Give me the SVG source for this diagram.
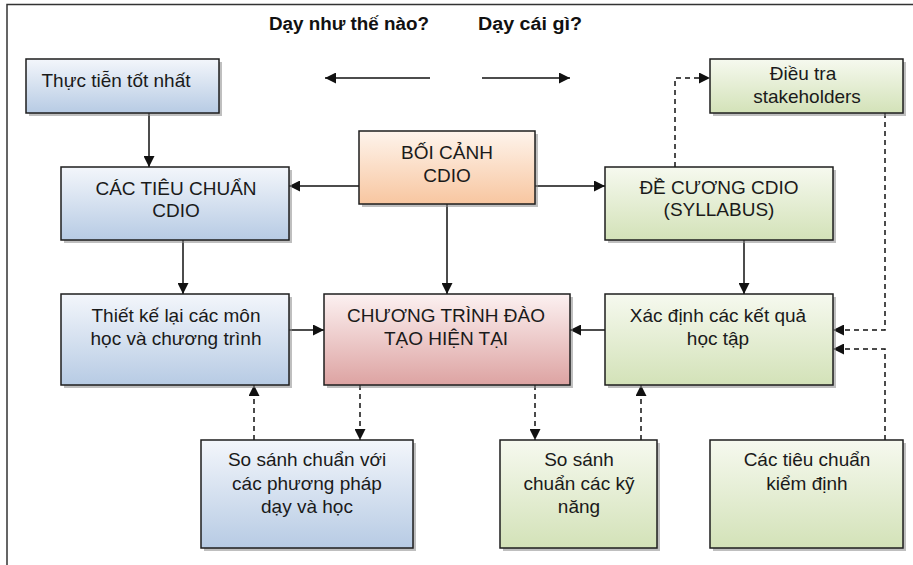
<svg xmlns="http://www.w3.org/2000/svg" width="913" height="565" viewBox="0 0 913 565">
<defs>
<linearGradient id="gBlue" x1="0" y1="0" x2="0" y2="1"><stop offset="0" stop-color="#f3f6fb"/><stop offset="1" stop-color="#b7cbe4"/></linearGradient>
<linearGradient id="gGreen" x1="0" y1="0" x2="0" y2="1"><stop offset="0" stop-color="#f6f9ef"/><stop offset="1" stop-color="#d3e2b8"/></linearGradient>
<linearGradient id="gOrange" x1="0" y1="0" x2="0" y2="1"><stop offset="0" stop-color="#fef4ec"/><stop offset="1" stop-color="#f8c6a0"/></linearGradient>
<linearGradient id="gRed" x1="0" y1="0" x2="0" y2="1"><stop offset="0" stop-color="#fcf1f1"/><stop offset="1" stop-color="#dda3a2"/></linearGradient>
<marker id="arr" viewBox="0 0 10 10" refX="10" refY="5" markerWidth="11" markerHeight="11" markerUnits="userSpaceOnUse" orient="auto"><path d="M0,0 L10,5 L0,10 z" fill="#111"/></marker>
</defs>
<style>
.box{stroke:#1e1e1e;stroke-width:1.5}
.sh{fill:#8a8a8a;opacity:.55}
.t{font-family:"Liberation Sans",Arial,sans-serif;font-size:19px;fill:#1a1a1a;text-anchor:middle}
.h{font-family:"Liberation Sans",Arial,sans-serif;font-size:18px;font-weight:bold;fill:#111}
.c{fill:none;stroke:#111;stroke-width:1.5}
.d{fill:none;stroke:#111;stroke-width:1.5;stroke-dasharray:5 4}
</style>
<rect width="913" height="565" fill="#fff"/>
<path d="M7,565 V4.5 H913" fill="none" stroke="#333" stroke-width="1.5"/>
<g id="headers">
<text class="h" x="269" y="30" textLength="160" lengthAdjust="spacingAndGlyphs">Dạy như thế nào?</text>
<text class="h" x="478" y="30" textLength="104" lengthAdjust="spacingAndGlyphs">Dạy cái gì?</text>
</g>
<g id="connectors">
<path class="c" d="M430,78 H325" marker-end="url(#arr)"/>
<path class="c" d="M482,78 H570" marker-end="url(#arr)"/>
<path class="c" d="M149,113 V167" marker-end="url(#arr)"/>
<path class="c" d="M359,186 H289" marker-end="url(#arr)"/>
<path class="c" d="M535,186 H605" marker-end="url(#arr)"/>
<path class="c" d="M447,204 V294" marker-end="url(#arr)"/>
<path class="c" d="M183,240 V294" marker-end="url(#arr)"/>
<path class="c" d="M289,330 H324" marker-end="url(#arr)"/>
<path class="c" d="M744,240 V294" marker-end="url(#arr)"/>
<path class="c" d="M605,330 H570" marker-end="url(#arr)"/>
<path class="d" d="M675,167 V78 H710" marker-end="url(#arr)"/>
<path class="d" d="M885,113 V330 H833" marker-end="url(#arr)"/>
<path class="d" d="M885,440 V349 H833" marker-end="url(#arr)"/>
<path class="d" d="M254,440 V385" marker-end="url(#arr)"/>
<path class="d" d="M360,385 V440" marker-end="url(#arr)"/>
<path class="d" d="M535,385 V440" marker-end="url(#arr)"/>
<path class="d" d="M641,440 V385" marker-end="url(#arr)"/>
</g>
<g id="n-thuc-tien">
<rect class="sh" x="29" y="62" width="193" height="54"/>
<rect class="box" x="26" y="59" width="193" height="54" fill="url(#gBlue)"/>
<text class="t" x="116" y="87">Thực tiễn tốt nhất</text>
</g>
<g id="n-tieu-chuan">
<rect class="sh" x="64" y="170" width="228" height="73"/>
<rect class="box" x="61" y="167" width="228" height="73" fill="url(#gBlue)"/>
<text class="t" x="176" y="195">CÁC TIÊU CHUẨN</text>
<text class="t" x="176" y="217">CDIO</text>
</g>
<g id="n-boi-canh">
<rect class="sh" x="362" y="134" width="176" height="73"/>
<rect class="box" x="359" y="131" width="176" height="73" fill="url(#gOrange)"/>
<text class="t" x="447" y="159">BỐI CẢNH</text>
<text class="t" x="447" y="182">CDIO</text>
</g>
<g id="n-de-cuong">
<rect class="sh" x="608" y="170" width="228" height="73"/>
<rect class="box" x="605" y="167" width="228" height="73" fill="url(#gGreen)"/>
<text class="t" x="719" y="194">ĐỀ CƯƠNG CDIO</text>
<text class="t" x="719" y="216">(SYLLABUS)</text>
</g>
<g id="n-dieu-tra">
<rect class="sh" x="713" y="62" width="193" height="54"/>
<rect class="box" x="710" y="59" width="193" height="54" fill="url(#gGreen)"/>
<text class="t" x="803" y="80">Điều tra</text>
<text class="t" x="807" y="103">stakeholders</text>
</g>
<g id="n-thiet-ke">
<rect class="sh" x="64" y="297" width="228" height="91"/>
<rect class="box" x="61" y="294" width="228" height="91" fill="url(#gBlue)"/>
<text class="t" x="176" y="322">Thiết kế lại các môn</text>
<text class="t" x="176" y="345">học và chương trình</text>
</g>
<g id="n-chuong-trinh">
<rect class="sh" x="327" y="297" width="246" height="91"/>
<rect class="box" x="324" y="294" width="246" height="91" fill="url(#gRed)"/>
<text class="t" x="446" y="322">CHƯƠNG TRÌNH ĐÀO</text>
<text class="t" x="446" y="345">TẠO HIỆN TẠI</text>
</g>
<g id="n-xac-dinh">
<rect class="sh" x="608" y="297" width="228" height="91"/>
<rect class="box" x="605" y="294" width="228" height="91" fill="url(#gGreen)"/>
<text class="t" x="718" y="322">Xác định các kết quả</text>
<text class="t" x="718" y="345">học tập</text>
</g>
<g id="n-so-sanh-pp">
<rect class="sh" x="204" y="443" width="212" height="108"/>
<rect class="box" x="201" y="440" width="212" height="108" fill="url(#gBlue)"/>
<text class="t" x="307" y="466">So sánh chuẩn với</text>
<text class="t" x="307" y="490">các phương pháp</text>
<text class="t" x="307" y="513">dạy và học</text>
</g>
<g id="n-so-sanh-kn">
<rect class="sh" x="503" y="443" width="157" height="108"/>
<rect class="box" x="500" y="440" width="157" height="108" fill="url(#gGreen)"/>
<text class="t" x="579" y="466">So sánh</text>
<text class="t" x="579" y="490">chuẩn các kỹ</text>
<text class="t" x="579" y="513">năng</text>
</g>
<g id="n-kiem-dinh">
<rect class="sh" x="713" y="443" width="193" height="108"/>
<rect class="box" x="710" y="440" width="193" height="108" fill="url(#gGreen)"/>
<text class="t" x="807" y="466">Các tiêu chuẩn</text>
<text class="t" x="807" y="490">kiểm định</text>
</g>
</svg>
